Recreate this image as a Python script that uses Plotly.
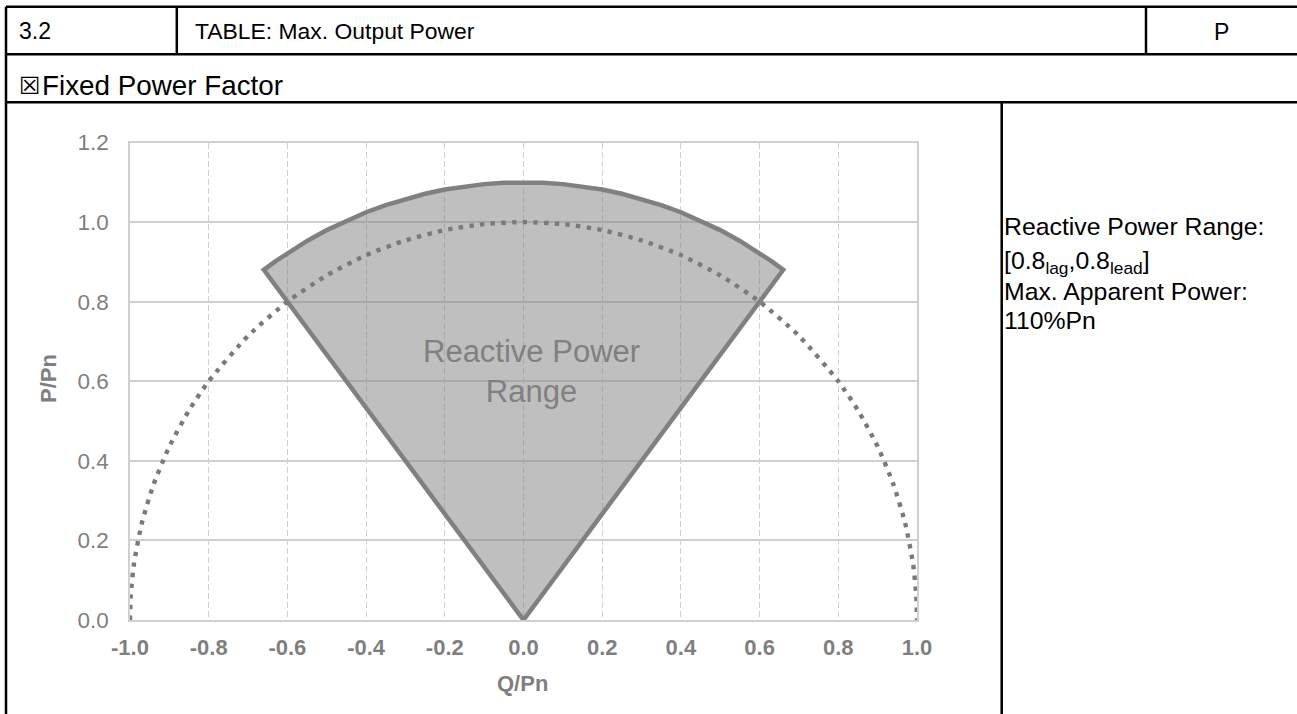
import plotly.graph_objects as go

W, H = 1297, 714

# ---- data ----
x_ticks = [-1.0, -0.8, -0.6, -0.4, -0.2, 0.0, 0.2, 0.4, 0.6, 0.8, 1.0]
y_ticks = [0.0, 0.2, 0.4, 0.6, 0.8, 1.0, 1.2]

# rated-power semicircle (dotted), Q/Pn vs P/Pn
circle_q = [-1.0, -0.998, -0.99, -0.97, -0.94, -0.9, -0.85, -0.8, -0.7, -0.6, -0.5, -0.4, -0.3, -0.2, -0.1, 0.0,
            0.1, 0.2, 0.3, 0.4, 0.5, 0.6, 0.7, 0.8, 0.85, 0.9, 0.94, 0.97, 0.99, 0.998, 1.0]
circle_p = [0.0, 0.063, 0.141, 0.243, 0.341, 0.436, 0.527, 0.6, 0.714, 0.8, 0.866, 0.917, 0.954, 0.980, 0.995, 1.0,
            0.995, 0.980, 0.954, 0.917, 0.866, 0.8, 0.714, 0.6, 0.527, 0.436, 0.341, 0.243, 0.141, 0.063, 0.0]

# reactive power range sector (110% Pn, PF 0.8 lag/lead)
sector_q = [0.0, -0.66, -0.63, -0.6, -0.55, -0.5, -0.45, -0.4, -0.35, -0.3, -0.25, -0.2, -0.15, -0.1, -0.05, 0.0,
            0.05, 0.1, 0.15, 0.2, 0.25, 0.3, 0.35, 0.4, 0.45, 0.5, 0.55, 0.6, 0.63, 0.66, 0.0]
sector_p = [0.0, 0.88, 0.9017, 0.922, 0.9526, 0.9798, 1.0037, 1.0247, 1.0428, 1.0583, 1.0712, 1.0817, 1.0897, 1.0954, 1.0989, 1.1,
            1.0989, 1.0954, 1.0897, 1.0817, 1.0712, 1.0583, 1.0428, 1.0247, 1.0037, 0.9798, 0.9526, 0.922, 0.9017, 0.88, 0.0]


def px(x):
    return x / W


def py(y):
    return 1 - y / H


GRID = "#d0d0d0"
SERIES = "#808080"
TXT = "#7f7f7f"
FONT = "Liberation Sans, Arial, sans-serif"

fig = go.Figure()
fig.add_trace(go.Scatter(
    x=sector_q, y=sector_p, mode="lines", fill="toself",
    fillcolor="rgba(128,128,128,0.5)",
    line=dict(color=SERIES, width=4.5), hoverinfo="skip", showlegend=False))
fig.add_trace(go.Scatter(
    x=circle_q, y=circle_p, mode="lines",
    line=dict(color="#7a7a7a", width=4.4, dash="4.4px,6.3px", shape="spline", smoothing=0.6),
    hoverinfo="skip", showlegend=False))

fig.update_layout(
    width=W, height=H, autosize=False,
    margin=dict(l=0, r=0, t=0, b=0, pad=0, autoexpand=False),
    paper_bgcolor="white", plot_bgcolor="white",
    font=dict(family=FONT, color="black"),
    xaxis=dict(
        domain=[px(130), px(917)], range=[-1.0, 1.0], automargin=False,
        tickvals=x_ticks, ticktext=[f"{v:.1f}" for v in x_ticks],
        tickfont=dict(family=FONT, size=22, color=TXT, weight="bold"),
        showgrid=True, gridcolor=GRID, gridwidth=1.3, griddash="6px,3px",
        showline=True, linecolor=GRID, linewidth=1.5, mirror=True,
        zeroline=False, ticks="", ticklabelstandoff=7, fixedrange=True),
    yaxis=dict(
        domain=[py(620), py(142.5)], range=[0.0, 1.2], automargin=False,
        tickvals=y_ticks, ticktext=[f"{v:.1f}" for v in y_ticks],
        tickfont=dict(family=FONT, size=22.5, color=TXT),
        showgrid=True, gridcolor=GRID, gridwidth=1.5,
        showline=True, linecolor=GRID, linewidth=1.5, mirror=True,
        zeroline=False, ticks="", ticklabelstandoff=15, fixedrange=True),
)

# table lines
lines = [
    (6, 6.7, W + 5, 6.7),
    (6, 54.3, W + 5, 54.3),
    (6, 102.3, W + 5, 102.3),
    (6, 6.7, 6, H + 5),
    (176.8, 6.7, 176.8, 54.3),
    (1146, 6.7, 1146, 54.3),
    (1001.7, 102.3, 1001.7, H + 5),
]
for x0, y0, x1, y1 in lines:
    fig.add_shape(type="line", xref="paper", yref="paper",
                  x0=px(x0), y0=py(y0), x1=px(x1), y1=py(y1),
                  line=dict(color="black", width=2.5), layer="above")


def ann(text, x, y, size=24, color="black", xanchor="left", bold=False, textangle=0, xref="paper", yref="paper",
        family=FONT):
    fig.add_annotation(text=text, x=x, y=y, xref=xref, yref=yref,
                       xanchor=xanchor, yanchor="middle", showarrow=False,
                       textangle=textangle,
                       font=dict(family=family, size=size, color=color, weight="bold" if bold else "normal"))


ann("3.2", px(17), py(31), size=23)
ann("TABLE: Max. Output Power", px(193), py(31), size=22.9)
ann("P", px(1221.7), py(32), size=23, xanchor="center")
ann("☒", px(29.5), py(86), size=24, xanchor="center", family="DejaVu Sans, sans-serif")
ann("Fixed Power Factor", px(40), py(85), size=27.8)

ann("Reactive Power Range:", px(1002), py(226), size=24.8)
ann("[0.8<sub>lag</sub>,0.8<sub>lead</sub>]", px(1002), py(262), size=24.8)
ann("Max. Apparent Power:", px(1002), py(291), size=24.8)
ann("110%Pn", px(1002), py(321), size=24.8)

ann("Q/Pn", px(522), py(683), size=22, color=TXT, xanchor="center", bold=True)
ann("P/Pn", px(48), py(379), size=22, color=TXT, xanchor="center", bold=True, textangle=-90)

ann("Reactive Power<br>Range", 0.02, 0.625, size=31, color="#808080", xanchor="center", xref="x", yref="y")

fig.write_html("out.html")
